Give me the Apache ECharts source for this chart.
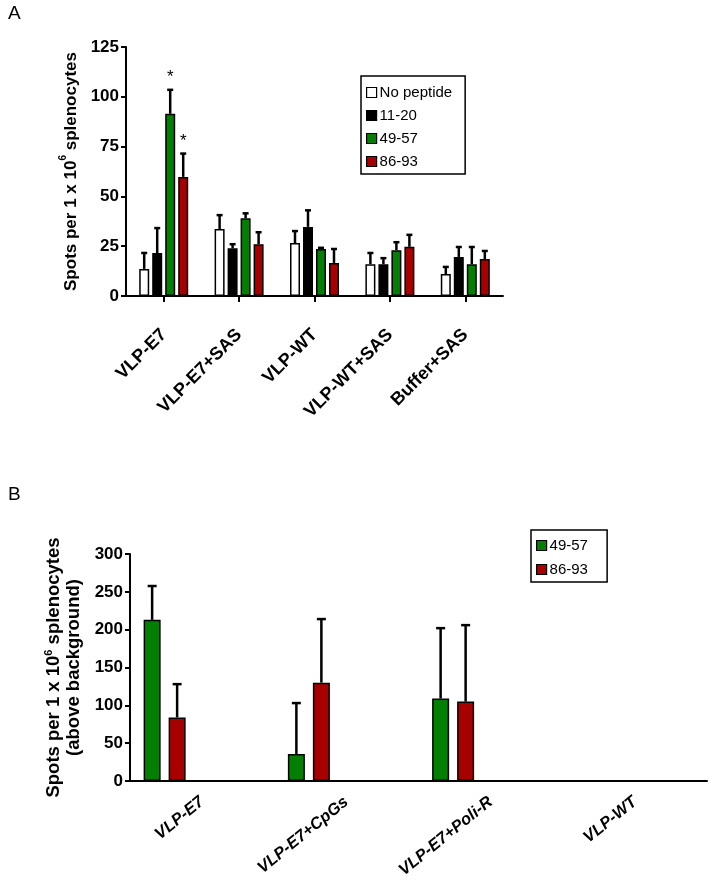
<!DOCTYPE html>
<html>
<head>
<meta charset="utf-8">
<script src="https://cdn.jsdelivr.net/npm/echarts@6/dist/echarts.min.js"></script>
<style>
html,body{margin:0;padding:0;background:#fff;}
#main{width:712px;height:885px;}
</style>
</head>
<body>
<div id="main"></div>
<script>
// ---------- Panel A data ----------
var catsA = ['VLP-E7', 'VLP-E7+SAS', 'VLP-WT', 'VLP-WT+SAS', 'Buffer+SAS'];
var namesA = ['No peptide', '11-20', '49-57', '86-93'];
var noPeptide = [13.6, 33.6, 26.6, 16, 11];
var p1120 = [21.6, 24, 34.7, 16, 19.6];
var p4957 = [91.5, 39, 23.6, 23, 16];
var p8693 = [59.8, 26, 16.6, 24.7, 18.6];
var noPeptideErr = [8, 7, 6, 5.6, 3.6];
var p1120Err = [12.5, 2, 8.3, 3, 5];
var p4957Err = [12, 2.5, 0.6, 4, 8.6];
var p8693Err = [11.7, 6, 7, 6, 4];
var starsA = [['', '', '', '', ''], ['', '', '', '', ''], ['*', '', '', '', ''], ['*', '', '', '', '']];
var ticksA = [0, 25, 50, 75, 100, 125];

// ---------- Panel B data ----------
var catsB = ['VLP-E7', 'VLP-E7+CpGs', 'VLP-E7+Poli-R', 'VLP-WT'];
var namesB = ['49-57', '86-93'];
var b4957 = [213, 35.6, 109, null];
var b8693 = [84, 130, 105, null];
var b4957Err = [44.7, 67.4, 93, null];
var b8693Err = [44, 84, 101, null];
var ticksB = [0, 50, 100, 150, 200, 250, 300];

var FONT = "'Liberation Sans', Arial, sans-serif";
var GREEN = '#038003';
var RED = '#a80000';
var colorsA = ['#ffffff', '#000000', GREEN, RED];
var valsA = [noPeptide, p1120, p4957, p8693];
var errsA = [noPeptideErr, p1120Err, p4957Err, p8693Err];

var BWA = 10, GAPA = 3, NA = 4;
var BWB = 17, GAPB = 8, NB = 5; // 5 slots per group (last three unused)

function errSeries(name, xi, yi, vals, errs, k, n, bw, gap, capW, lw, stars) {
  var data = [];
  for (var i = 0; i < vals.length; i++) {
    if (vals[i] == null) continue;
    data.push([i, vals[i], errs[i], stars ? stars[i] : '']);
  }
  return {
    type: 'custom', name: name + ' err', xAxisIndex: xi, yAxisIndex: yi, z: 1,
    silent: true,
    data: data,
    renderItem: function (params, api) {
      var c = api.value(0), v = api.value(1), e = api.value(2);
      var base = api.coord([c, v]);
      var top = api.coord([c, v + e]);
      var off = (k - (n - 1) / 2) * (bw + gap);
      var x = base[0] + off;
      var children = [
        {type: 'line', shape: {x1: x, y1: base[1], x2: x, y2: top[1]}, style: {stroke: '#000', lineWidth: lw}},
        {type: 'line', shape: {x1: x - capW / 2, y1: top[1], x2: x + capW / 2, y2: top[1]}, style: {stroke: '#000', lineWidth: lw}}
      ];
      var s = data[params.dataIndex][3];
      if (s) {
        children.push({type: 'text', style: {text: s, x: x, y: top[1] - 4, align: 'center', verticalAlign: 'bottom', font: '17px ' + FONT, fill: '#000'}});
      }
      return {type: 'group', children: children};
    }
  };
}

var series = [];
for (var k = 0; k < NA; k++) {
  series.push({
    type: 'bar', name: namesA[k], xAxisIndex: 0, yAxisIndex: 0, data: valsA[k],
    barWidth: BWA, barGap: (GAPA / BWA * 100) + '%', z: 2,
    itemStyle: {color: colorsA[k], borderColor: '#000', borderWidth: 1.5}
  });
}
for (var k = 0; k < NA; k++) {
  series.push(errSeries(namesA[k], 0, 0, valsA[k], errsA[k], k, NA, BWA, GAPA, 6, 2.5, starsA[k]));
}
var valsB = [b4957, b8693];
var errsB = [b4957Err, b8693Err];
var colorsB = [GREEN, RED];
for (var k = 0; k < 2; k++) {
  series.push({
    type: 'bar', name: namesB[k] + ' ', xAxisIndex: 1, yAxisIndex: 1, data: valsB[k],
    barWidth: BWB, barGap: (GAPB / BWB * 100) + '%', z: 2,
    itemStyle: {color: colorsB[k], borderColor: '#000', borderWidth: 1.5}
  });
}
// unused slots of panel B's groups
for (var k = 2; k < NB; k++) {
  series.push({
    type: 'bar', name: 'slot' + k, xAxisIndex: 1, yAxisIndex: 1, data: catsB.map(function () { return null; }),
    barWidth: BWB, barGap: (GAPB / BWB * 100) + '%', silent: true
  });
}
for (var k = 0; k < 2; k++) {
  series.push(errSeries(namesB[k], 1, 1, valsB[k], errsB[k], k, NB, BWB, GAPB, 9, 2.5, null));
}

var nameRich = {
  b: {fontFamily: FONT, fontWeight: 'bold', fontSize: 17, color: '#000', lineHeight: 21, verticalAlign: 'bottom'},
  s: {fontFamily: FONT, fontWeight: 'bold', fontSize: 10, color: '#000', lineHeight: 21, verticalAlign: 'top', padding: [0, 0, 7, 0]}
};
var nameRichB = {
  b: {fontFamily: FONT, fontWeight: 'bold', fontSize: 18.5, color: '#000', lineHeight: 20, verticalAlign: 'bottom'},
  s: {fontFamily: FONT, fontWeight: 'bold', fontSize: 11, color: '#000', lineHeight: 20, verticalAlign: 'top', padding: [0, 0, 9, 0]}
};

var option = {
  backgroundColor: '#fff',
  animation: false,
  textStyle: {fontFamily: FONT},
  graphic: [
    {type: 'text', left: 8, top: 4, style: {text: 'A', font: '19px ' + FONT, fill: '#000'}},
    {type: 'text', left: 8, top: 485, style: {text: 'B', font: '19px ' + FONT, fill: '#000'}}
  ],
  legend: [
    {
      data: namesA, orient: 'vertical', left: 361, top: 76,
      padding: [9, 13, 5, 5], itemGap: 8, itemWidth: 10, itemHeight: 10,
      borderColor: '#000', borderWidth: 1.5, icon: 'rect',
      itemStyle: {borderColor: '#000', borderWidth: 1.2},
      textStyle: {fontFamily: FONT, fontSize: 15, color: '#000', padding: [0, 0, 0, -2]}
    },
    {
      data: namesB.map(function (n) { return n + ' '; }), orient: 'vertical', left: 531, top: 530,
      padding: [8, 15, 5, 5], itemGap: 9, itemWidth: 10, itemHeight: 10,
      borderColor: '#000', borderWidth: 1.5, icon: 'rect',
      itemStyle: {borderColor: '#000', borderWidth: 1.2},
      textStyle: {fontFamily: FONT, fontSize: 15, color: '#000', padding: [0, 0, 0, -2]}
    }
  ],
  grid: [
    {left: 126, top: 47, width: 377, height: 249, containLabel: false, outerBoundsMode: 'none'},
    {left: 130, top: 554, width: 577, height: 227, containLabel: false, outerBoundsMode: 'none'}
  ],
  xAxis: [
    {
      type: 'category', gridIndex: 0, data: catsA,
      axisLine: {lineStyle: {color: '#000', width: 2}},
      axisTick: {show: true, alignWithLabel: true, length: 6, lineStyle: {color: '#000', width: 2}},
      axisLabel: {rotate: 45, interval: 0, margin: 36, color: '#000', fontFamily: FONT, fontWeight: 'bold', fontSize: 18}
    },
    {
      type: 'category', gridIndex: 1, data: catsB,
      axisLine: {lineStyle: {color: '#000', width: 2}},
      axisTick: {show: false},
      axisLabel: {rotate: 39, interval: 0, margin: 19, color: '#000', fontFamily: FONT, fontWeight: 'bold', fontStyle: 'italic', fontSize: 16.5}
    }
  ],
  yAxis: [
    {
      type: 'value', gridIndex: 0, min: ticksA[0], max: ticksA[ticksA.length - 1], interval: ticksA[1] - ticksA[0],
      splitLine: {show: false},
      axisLine: {show: true, lineStyle: {color: '#000', width: 2}},
      axisTick: {show: true, length: 5, lineStyle: {color: '#000', width: 2}},
      axisLabel: {margin: 7, color: '#000', fontFamily: FONT, fontWeight: 'bold', fontSize: 17},
      name: '{b|Spots per 1 x 10}{s|6}{b| splenocytes}',
      nameLocation: 'middle', nameRotate: 90, nameGap: 42,
      nameTextStyle: {rich: nameRich}
    },
    {
      type: 'value', gridIndex: 1, min: ticksB[0], max: ticksB[ticksB.length - 1], interval: ticksB[1] - ticksB[0],
      splitLine: {show: false},
      axisLine: {show: true, lineStyle: {color: '#000', width: 2}},
      axisTick: {show: true, length: 5, lineStyle: {color: '#000', width: 2}},
      axisLabel: {margin: 7, color: '#000', fontFamily: FONT, fontWeight: 'bold', fontSize: 17},
      name: '{b|Spots per 1 x 10}{s|6}{b| splenocytes}\n{b|(above background)}',
      nameLocation: 'middle', nameRotate: 90, nameGap: 42,
      nameTextStyle: {rich: nameRichB, align: 'center'}
    }
  ],
  series: series
};

var chart = echarts.init(document.getElementById('main'), null, {renderer: 'canvas'});
chart.setOption(option);
</script>
</body>
</html>
